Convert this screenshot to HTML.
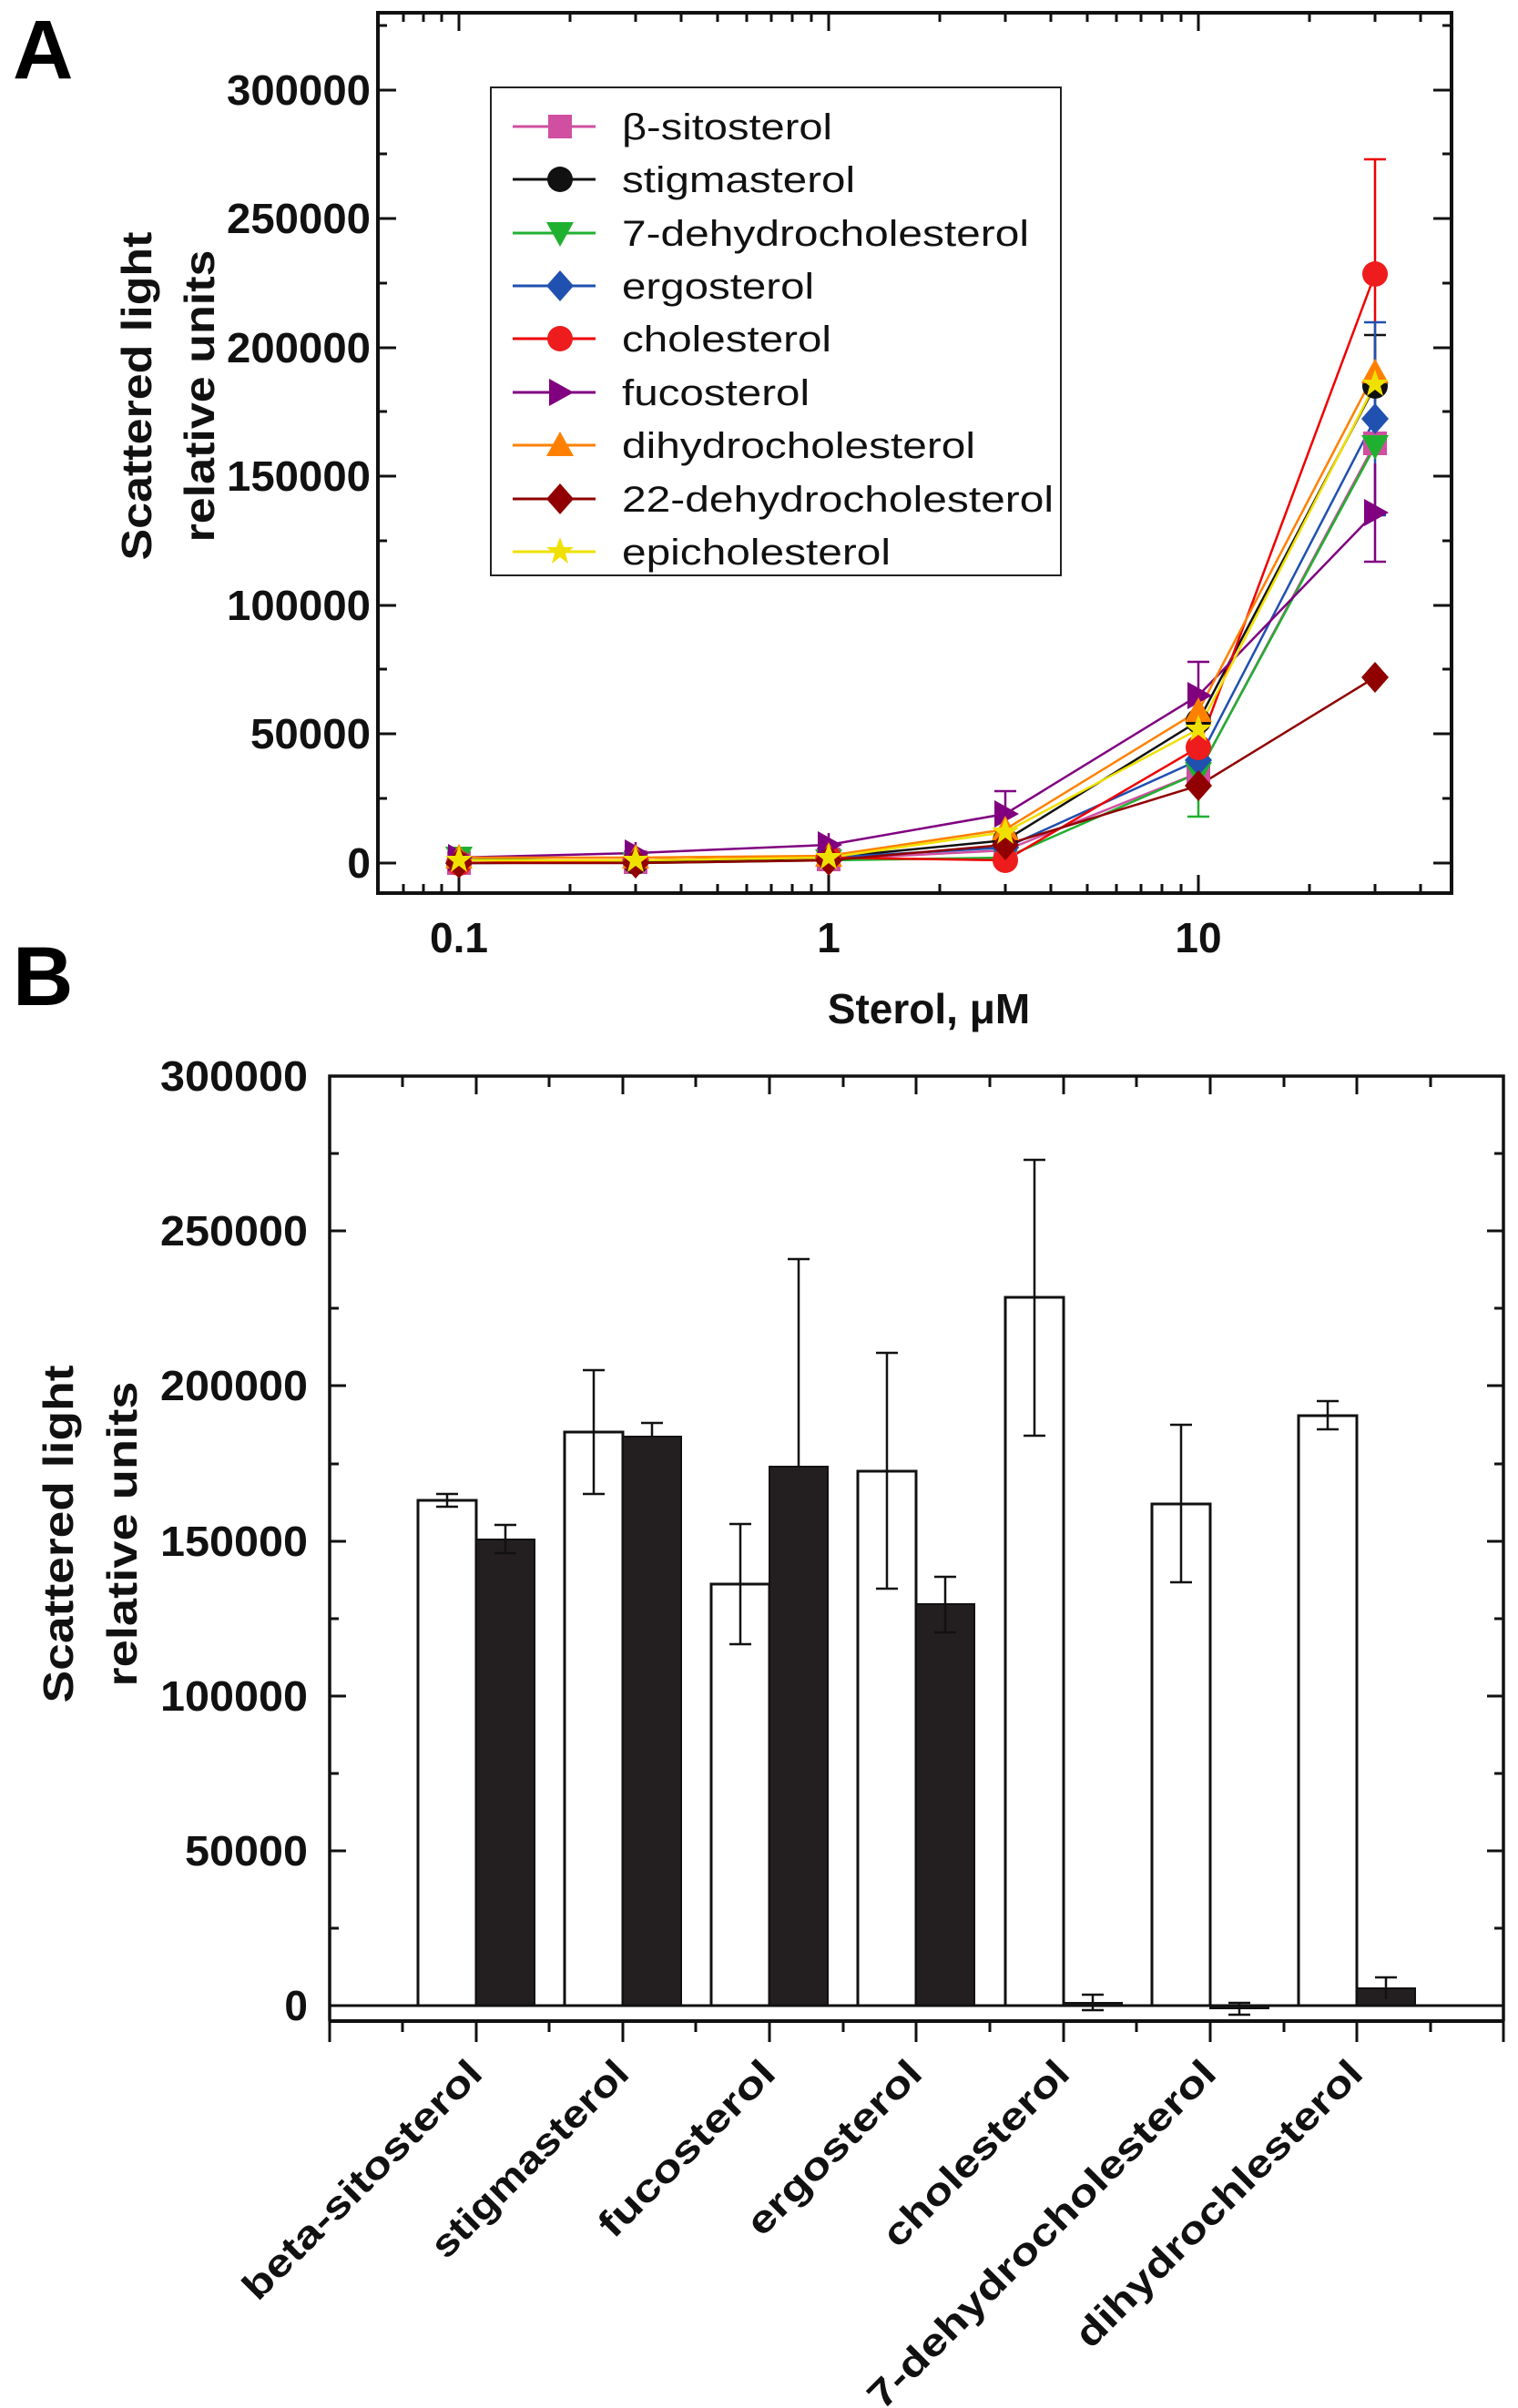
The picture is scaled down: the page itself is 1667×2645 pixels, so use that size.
<!DOCTYPE html>
<html><head><meta charset="utf-8"><style>html,body{margin:0;padding:0;background:#fff}svg{display:block}</style></head>
<body>
<svg width="1667" height="2645" viewBox="0 0 1667 2645" xmlns="http://www.w3.org/2000/svg" font-family="Liberation Sans, sans-serif">
<defs>
<rect id="sq" x="-13" y="-13" width="26" height="26"/>
<circle id="ci" r="14"/>
<polygon id="dt" points="-15,-12 15,-12 0,15"/>
<polygon id="ut" points="-15,12 15,12 0,-15"/>
<polygon id="rt" points="-12,-15 -12,15 15,0"/>
<polygon id="di" points="0,-17 15,0 0,17 -15,0"/>
<polygon id="st" points="0,-16 4,-5 15,-5 6,2 9,13 0,6 -9,13 -6,2 -15,-5 -4,-5"/>
</defs>

<!-- Panel letters -->
<text x="14" y="86" font-size="92" font-weight="bold">A</text>
<text x="14" y="1104" font-size="92" font-weight="bold">B</text>

<!-- ===== Panel A ===== -->
<g stroke="#111" stroke-width="3" fill="none">
<rect x="415" y="14" width="1179" height="967" stroke-width="4"/>
<!-- y ticks major -->
<path d="M415 99h20M415 240h20M415 382h20M415 523h20M415 665h20M415 806h20M415 948h20 M1594 99h-20M1594 240h-20M1594 382h-20M1594 523h-20M1594 665h-20M1594 806h-20M1594 948h-20"/>
<path d="M415 28h10M415 169h10M415 311h10M415 452h10M415 594h10M415 735h10M415 877h10 M1594 28h-10M1594 169h-10M1594 311h-10M1594 452h-10M1594 594h-10M1594 735h-10M1594 877h-10"/>
<!-- x ticks -->
<path d="M504 14v20M910 14v20M1316 14v20 M504 981v-20M910 981v-20M1316 981v-20"/>
<path d="M443 14v10M465 14v10M485 14v10M626 14v10M698 14v10M748 14v10M788 14v10M820 14v10M847 14v10M870 14v10M891 14v10M1032 14v10M1104 14v10M1154 14v10M1194 14v10M1226 14v10M1253 14v10M1276 14v10M1297 14v10M1438 14v10M1510 14v10M1560 14v10
M443 981v-10M465 981v-10M485 981v-10M626 981v-10M698 981v-10M748 981v-10M788 981v-10M820 981v-10M847 981v-10M870 981v-10M891 981v-10M1032 981v-10M1104 981v-10M1154 981v-10M1194 981v-10M1226 981v-10M1253 981v-10M1276 981v-10M1297 981v-10M1438 981v-10M1510 981v-10M1560 981v-10"/>
</g>
<g font-size="46" font-weight="bold" text-anchor="end" fill="#111">
<text x="407" y="115" textLength="158" lengthAdjust="spacingAndGlyphs">300000</text>
<text x="407" y="256" textLength="158" lengthAdjust="spacingAndGlyphs">250000</text>
<text x="407" y="398" textLength="158" lengthAdjust="spacingAndGlyphs">200000</text>
<text x="407" y="539" textLength="158" lengthAdjust="spacingAndGlyphs">150000</text>
<text x="407" y="681" textLength="158" lengthAdjust="spacingAndGlyphs">100000</text>
<text x="407" y="822" textLength="132" lengthAdjust="spacingAndGlyphs">50000</text>
<text x="407" y="964">0</text>
</g>
<g font-size="46" font-weight="bold" text-anchor="middle" fill="#111">
<text x="504" y="1046">0.1</text>
<text x="910" y="1046">1</text>
<text x="1316" y="1046">10</text>
<text x="1020" y="1124">Sterol, μM</text>
</g>
<g font-size="46" font-weight="bold" text-anchor="middle" fill="#111">
<text transform="translate(166,435) rotate(-90)" textLength="361" lengthAdjust="spacingAndGlyphs">Scattered light</text>
<text transform="translate(235,435) rotate(-90)" textLength="321" lengthAdjust="spacingAndGlyphs">relative units</text>
</g>

<!-- series: x 504,698,910,1104,1316,1510 -->
<g fill="none" stroke-width="2.5">
<!-- error bars -->
<path stroke="#e00" d="M1510 427V175M1498 175h24"/>
<path stroke="#111" d="M1510 481V368M1498 368h24"/>
<path stroke="#2050b0" d="M1510 566V354M1498 354h24M1498 566h24"/>
<path stroke="#800080" d="M1510 617V509M1498 617h24M1316 764V727M1304 727h24M1104 894V869M1092 869h24M910 930V915M698 937V925"/>
<path stroke="#20b030" d="M1316 849V897M1304 897h24"/>
<polyline stroke="#d04fa0" points="504,948 698,947 910,944 1104,934 1316,849 1510,487"/>
<polyline stroke="#111" points="504,948 698,947 910,942 1104,923 1316,792 1510,424"/>
<polyline stroke="#20b030" points="504,942 698,948 910,945 1104,942 1316,849 1510,490"/>
<polyline stroke="#2050b0" points="504,948 698,945 910,942 1104,931 1316,835 1510,460"/>
<polyline stroke="#e00" points="504,948 698,945 910,942 1104,945 1316,821 1510,301"/>
<polyline stroke="#800080" points="504,942 698,937 910,928 1104,894 1316,764 1510,563"/>
<polyline stroke="#ff8000" points="504,942 698,942 910,940 1104,911 1316,781 1510,409"/>
<polyline stroke="#900000" points="504,948 698,948 910,945 1104,928 1316,863 1510,744"/>
<polyline stroke="#f0e000" points="504,945 698,945 910,942 1104,914 1316,801 1510,422"/>
</g>
<g fill="#d04fa0"><use href="#sq" x="504" y="948"/><use href="#sq" x="698" y="947"/><use href="#sq" x="910" y="944"/><use href="#sq" x="1104" y="934"/><use href="#sq" x="1316" y="849"/><use href="#sq" x="1510" y="487"/></g>
<g fill="#111"><use href="#ci" x="504" y="948"/><use href="#ci" x="698" y="947"/><use href="#ci" x="910" y="942"/><use href="#ci" x="1104" y="923"/><use href="#ci" x="1316" y="792"/><use href="#ci" x="1510" y="424"/></g>
<g fill="#20b030"><use href="#dt" x="504" y="942"/><use href="#dt" x="698" y="948"/><use href="#dt" x="910" y="945"/><use href="#dt" x="1104" y="942"/><use href="#dt" x="1316" y="849"/><use href="#dt" x="1510" y="490"/></g>
<g fill="#2050b0"><use href="#di" x="504" y="948"/><use href="#di" x="698" y="945"/><use href="#di" x="910" y="942"/><use href="#di" x="1104" y="931"/><use href="#di" x="1316" y="835"/><use href="#di" x="1510" y="460"/></g>
<g fill="#ee1c1c"><use href="#ci" x="504" y="948"/><use href="#ci" x="698" y="945"/><use href="#ci" x="910" y="942"/><use href="#ci" x="1104" y="945"/><use href="#ci" x="1316" y="821"/><use href="#ci" x="1510" y="301"/></g>
<g fill="#800080"><use href="#rt" x="504" y="942"/><use href="#rt" x="698" y="937"/><use href="#rt" x="910" y="928"/><use href="#rt" x="1104" y="894"/><use href="#rt" x="1316" y="764"/><use href="#rt" x="1510" y="563"/></g>
<g fill="#ff8000"><use href="#ut" x="504" y="942"/><use href="#ut" x="698" y="942"/><use href="#ut" x="910" y="940"/><use href="#ut" x="1104" y="911"/><use href="#ut" x="1316" y="781"/><use href="#ut" x="1510" y="409"/></g>
<g fill="#900000"><use href="#di" x="504" y="948"/><use href="#di" x="698" y="948"/><use href="#di" x="910" y="945"/><use href="#di" x="1104" y="928"/><use href="#di" x="1316" y="863"/><use href="#di" x="1510" y="744"/></g>
<g fill="#f0e000"><use href="#st" x="504" y="945"/><use href="#st" x="698" y="945"/><use href="#st" x="910" y="942"/><use href="#st" x="1104" y="914"/><use href="#st" x="1316" y="801"/><use href="#st" x="1510" y="422"/></g>

<!-- legend -->
<rect x="539" y="96" width="626" height="536" fill="#fff" stroke="#222" stroke-width="2"/>
<g stroke-width="3">
<line x1="563" y1="139" x2="654" y2="139" stroke="#d04fa0"/>
<line x1="563" y1="197" x2="654" y2="197" stroke="#111"/>
<line x1="563" y1="256" x2="654" y2="256" stroke="#20b030"/>
<line x1="563" y1="314" x2="654" y2="314" stroke="#2050b0"/>
<line x1="563" y1="372" x2="654" y2="372" stroke="#e00"/>
<line x1="563" y1="431" x2="654" y2="431" stroke="#800080"/>
<line x1="563" y1="489" x2="654" y2="489" stroke="#ff8000"/>
<line x1="563" y1="548" x2="654" y2="548" stroke="#900000"/>
<line x1="563" y1="606" x2="654" y2="606" stroke="#f0e000"/>
</g>
<use href="#sq" x="615" y="139" fill="#d04fa0"/>
<use href="#ci" x="615" y="197" fill="#111"/>
<use href="#dt" x="615" y="256" fill="#20b030"/>
<use href="#di" x="615" y="314" fill="#2050b0"/>
<use href="#ci" x="615" y="372" fill="#ee1c1c"/>
<use href="#rt" x="615" y="431" fill="#800080"/>
<use href="#ut" x="615" y="489" fill="#ff8000"/>
<use href="#di" x="615" y="548" fill="#900000"/>
<use href="#st" x="615" y="606" fill="#f0e000"/>
<g font-size="40" fill="#111">
<text x="683" y="153" textLength="231" lengthAdjust="spacingAndGlyphs">β-sitosterol</text>
<text x="683" y="211" textLength="256" lengthAdjust="spacingAndGlyphs">stigmasterol</text>
<text x="683" y="270" textLength="447" lengthAdjust="spacingAndGlyphs">7-dehydrocholesterol</text>
<text x="683" y="328" textLength="211" lengthAdjust="spacingAndGlyphs">ergosterol</text>
<text x="683" y="386" textLength="230" lengthAdjust="spacingAndGlyphs">cholesterol</text>
<text x="683" y="445" textLength="206" lengthAdjust="spacingAndGlyphs">fucosterol</text>
<text x="683" y="503" textLength="388" lengthAdjust="spacingAndGlyphs">dihydrocholesterol</text>
<text x="683" y="562" textLength="474" lengthAdjust="spacingAndGlyphs">22-dehydrocholesterol</text>
<text x="683" y="620" textLength="295" lengthAdjust="spacingAndGlyphs">epicholesterol</text>
</g>

<!-- ===== Panel B ===== -->
<g fill="#fff" stroke="#111" stroke-width="3">
<rect x="459" y="1648" width="64" height="555"/>
<rect x="620" y="1573" width="64" height="630"/>
<rect x="781" y="1740" width="64" height="463"/>
<rect x="942" y="1616" width="64" height="587"/>
<rect x="1104" y="1425" width="64" height="778"/>
<rect x="1265" y="1652" width="64" height="551"/>
<rect x="1426" y="1555" width="64" height="648"/>
</g>
<g fill="#231f20" stroke="#111" stroke-width="2">
<rect x="523" y="1691" width="64" height="512"/>
<rect x="684" y="1578" width="64" height="625"/>
<rect x="845" y="1611" width="64" height="592"/>
<rect x="1006" y="1762" width="64" height="441"/>
<rect x="1168" y="2200" width="64" height="3"/>
<rect x="1329" y="2203" width="64" height="3"/>
<rect x="1490" y="2184" width="64" height="19"/>
</g>
<g stroke="#111" stroke-width="2.5" fill="none">
<path d="M491 1655V1641M479 1655h24M479 1641h24"/>
<path d="M652 1641V1505M640 1641h24M640 1505h24"/>
<path d="M813 1806V1674M801 1806h24M801 1674h24"/>
<path d="M974 1745V1486M962 1745h24M962 1486h24"/>
<path d="M1136 1577V1274M1124 1577h24M1124 1274h24"/>
<path d="M1297 1738V1565M1285 1738h24M1285 1565h24"/>
<path d="M1458 1570V1539M1446 1570h24M1446 1539h24"/>
<path d="M555 1706V1675M543 1706h24M543 1675h24"/>
<path d="M716 1578V1563M704 1563h24"/>
<path d="M877 1611V1383M865 1383h24"/>
<path d="M1038 1793V1732M1026 1793h24M1026 1732h24"/>
<path d="M1200 2208V2191M1188 2208h24M1188 2191h24"/>
<path d="M1361 2213V2200M1349 2213h24M1349 2200h24"/>
<path d="M1522 2196V2172M1510 2172h24"/>
</g>
<g stroke="#111" stroke-width="3.5" fill="none">
<path d="M362 2220V1182H1651V2220"/>
<path d="M362 2220H1651" stroke-width="4"/>
<path d="M362 2203H1651" stroke-width="3"/>
</g>
<g stroke="#111" stroke-width="3" fill="none">
<path d="M362 1182h18M362 1352h18M362 1522h18M362 1693h18M362 1863h18M362 2033h18 M1651 1182h-18M1651 1352h-18M1651 1522h-18M1651 1693h-18M1651 1863h-18M1651 2033h-18"/>
<path d="M362 1267h10M362 1437h10M362 1608h10M362 1778h10M362 1948h10M362 2118h10 M1651 1267h-10M1651 1437h-10M1651 1608h-10M1651 1778h-10M1651 1948h-10M1651 2118h-10"/>
<path d="M523 1182v20M684 1182v20M845 1182v20M1006 1182v20M1168 1182v20M1329 1182v20M1490 1182v20 M442 1182v12M603 1182v12M764 1182v12M926 1182v12M1087 1182v12M1248 1182v12M1410 1182v12M1571 1182v12"/>
<path d="M362 2220v23M523 2220v23M684 2220v23M845 2220v23M1006 2220v23M1168 2220v23M1329 2220v23M1490 2220v23M1651 2220v23 M442 2220v12M603 2220v12M764 2220v12M926 2220v12M1087 2220v12M1248 2220v12M1410 2220v12M1571 2220v12"/>
</g>
<g font-size="46" font-weight="bold" text-anchor="end" fill="#111">
<text x="338" y="1198" textLength="162" lengthAdjust="spacingAndGlyphs">300000</text>
<text x="338" y="1368" textLength="162" lengthAdjust="spacingAndGlyphs">250000</text>
<text x="338" y="1538" textLength="162" lengthAdjust="spacingAndGlyphs">200000</text>
<text x="338" y="1709" textLength="162" lengthAdjust="spacingAndGlyphs">150000</text>
<text x="338" y="1879" textLength="162" lengthAdjust="spacingAndGlyphs">100000</text>
<text x="338" y="2049" textLength="135" lengthAdjust="spacingAndGlyphs">50000</text>
<text x="338" y="2219">0</text>
</g>
<g font-size="46" font-weight="bold" text-anchor="middle" fill="#111">
<text transform="translate(80,1685) rotate(-90)" textLength="371" lengthAdjust="spacingAndGlyphs">Scattered light</text>
<text transform="translate(150,1685) rotate(-90)" textLength="335" lengthAdjust="spacingAndGlyphs">relative units</text>
</g>
<g font-size="42" font-weight="bold" text-anchor="end" fill="#111">
<text transform="translate(532,2280) rotate(-45)" textLength="352" lengthAdjust="spacingAndGlyphs">beta-sitosterol</text>
<text transform="translate(693,2280) rotate(-45)" textLength="287" lengthAdjust="spacingAndGlyphs">stigmasterol</text>
<text transform="translate(854,2280) rotate(-45)" textLength="255" lengthAdjust="spacingAndGlyphs">fucosterol</text>
<text transform="translate(1015,2280) rotate(-45)" textLength="252" lengthAdjust="spacingAndGlyphs">ergosterol</text>
<text transform="translate(1177,2280) rotate(-45)" textLength="270" lengthAdjust="spacingAndGlyphs">cholesterol</text>
<text transform="translate(1338,2280) rotate(-45)" textLength="521" lengthAdjust="spacingAndGlyphs">7-dehydrocholesterol</text>
<text transform="translate(1499,2280) rotate(-45)" textLength="426" lengthAdjust="spacingAndGlyphs">dihydrochlesterol</text>
</g>
</svg>
</body></html>
